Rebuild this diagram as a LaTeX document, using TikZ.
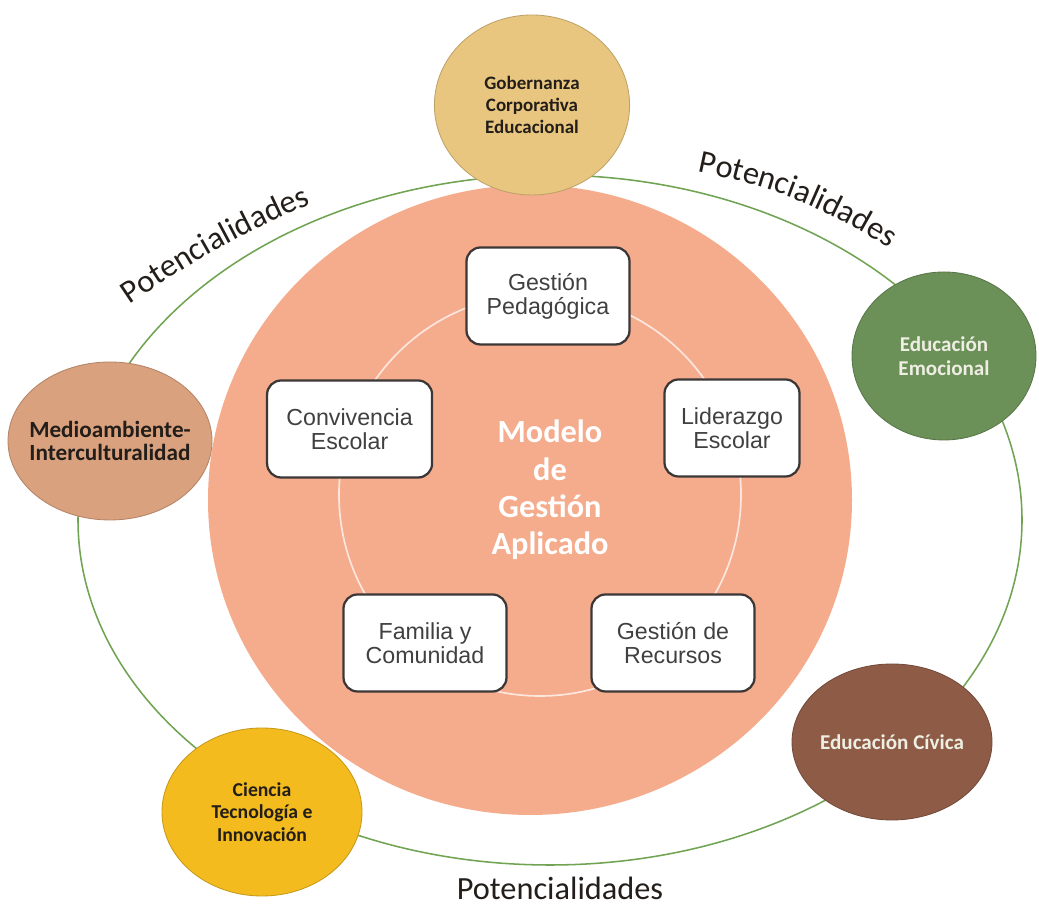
\documentclass[tikz,border=0pt]{standalone}
\usepackage{fontspec}
\setmainfont{Carlito}
\newfontfamily\boxfont{Liberation Sans}
\usetikzlibrary{shapes.geometric}
\usetikzlibrary{decorations.text}
\definecolor{salmon}{RGB}{245,172,141}
\definecolor{ringgreen}{RGB}{112,163,82}
\definecolor{gobcol}{RGB}{232,198,127}
\definecolor{emocol}{RGB}{107,145,88}
\definecolor{medcol}{RGB}{218,161,126}
\definecolor{civcol}{RGB}{142,91,71}
\definecolor{ciecol}{RGB}{243,187,29}
\definecolor{boxline}{RGB}{60,55,55}
\definecolor{boxtext}{RGB}{64,64,64}
\definecolor{dark}{RGB}{35,30,25}
\definecolor{light}{RGB}{238,238,226}
\newcommand{\potfont}{\fontsize{23}{26}\selectfont}

\begin{document}
\begin{tikzpicture}[
    sat node/.style={ellipse,draw=#1!82!black,fill=#1,line width=0.6pt,inner sep=-1cm,align=center},
    box node/.style={rectangle,rounded corners=0.35cm,draw=boxline,fill=white,line width=1.6pt,
      align=center,text=boxtext,minimum height=2.425cm,minimum width=4.075cm,
      font=\boxfont\fontsize{16.5}{17}\selectfont},
    pot label/.style={decorate,decoration={text along path,text align=center,
      text={|\potfont\color{dark}|Potencialidades}}}]
  \useasboundingbox (0,0) rectangle (25.975,22.7);
  % outer ring and core
  \draw[ringgreen,line width=1.1pt] (13.75,9.7) ellipse (11.8 and 8.625);
  \fill[salmon] (13.25,10.2) ellipse (8.05 and 7.875);
  \draw[white,opacity=0.7,line width=1.2pt] (13.5,10.325) circle (5.025);
  \node[text=white,align=center,font=\bfseries\fontsize{23}{26.5}\selectfont] (core) at (13.75,10.45)
    {Modelo\\de\\Gestión\\Aplicado};
  % management areas
  \node[box node] (ped) at (13.7,15.3) {Gestión\\Pedagógica};
  \node[box node,minimum width=3.375cm] (lid) at (18.3,12.0) {Liderazgo\\Escolar};
  \node[box node,minimum width=4.125cm] (conv) at (8.74,11.975) {Convivencia\\Escolar};
  \node[box node] (fam) at (10.625,6.625) {Familia y\\Comunidad};
  \node[box node] (rec) at (16.825,6.625) {Gestión de\\Recursos};
  % satellites
  \node[sat node=gobcol,minimum width=4.88cm,minimum height=4.5cm,text=dark,
    font=\bfseries\fontsize{13.5}{15.5}\selectfont] (gob) at (13.3,20.075)
    {Gobernanza\\Corporativa\\Educacional};
  \node[sat node=emocol,minimum width=4.6cm,minimum height=4.2cm,text=light,
    font=\bfseries\fontsize{15}{17}\selectfont] (emo) at (23.6,13.8)
    {Educación\\Emocional};
  \node[sat node=medcol,minimum width=5.1cm,minimum height=3.95cm,text=dark,
    font=\bfseries\fontsize{16.5}{17}\selectfont] (med) at (2.75,11.675)
    {Medioambiente-\\Interculturalidad};
  \node[sat node=civcol,minimum width=5.0cm,minimum height=3.9cm,text=light,
    font=\bfseries\fontsize{15}{17}\selectfont] (civ) at (22.3,4.15)
    {Educación Cívica};
  \node[sat node=ciecol,minimum width=5.0cm,minimum height=4.2cm,text=dark,
    font=\bfseries\fontsize{14}{15.8}\selectfont] (cie) at (6.55,2.4)
    {Ciencia\\Tecnología e\\Innovación};
  % labels on the ring
  \coordinate (potl1) at (3.3,15.125);
  \coordinate (potl2) at (7.7,17.575);
  \coordinate (potr1) at (17.5,18.4);
  \coordinate (potr2) at (22.175,16.525);
  \path[pot label] (potl1) to[bend left=5] (potl2);
  \path[pot label] (potr1) to[bend left=10] (potr2);
  \node[text=dark,font=\potfont] (potb) at (14.0,0.5) {Potencialidades};
\end{tikzpicture}
\end{document}
